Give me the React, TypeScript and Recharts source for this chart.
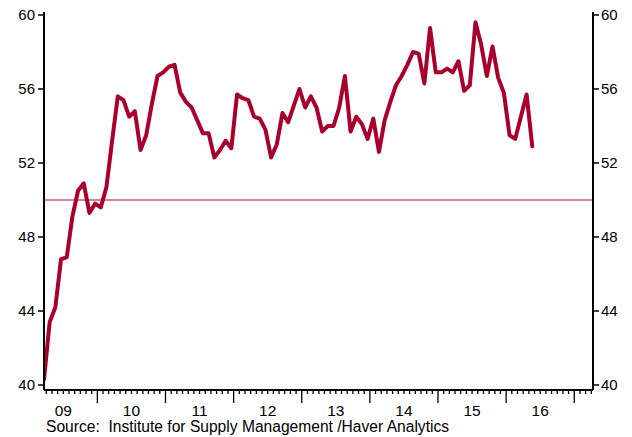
import React from 'react';
import { LineChart, Line, XAxis, YAxis, ReferenceLine } from 'recharts';

// Monthly index, March 2009 through May 2016
const startMonth = '2009-03';
const ismValues: number[] = [
  40.3, 43.4, 44.2, 46.8, 46.9, 49.1, 50.5, 50.9, 49.3, 49.8, 49.6, 50.7,
  53.2, 55.6, 55.4, 54.5, 54.8, 52.7, 53.5, 55.2, 56.7, 56.9, 57.2, 57.3,
  55.8, 55.3, 55.0, 54.3, 53.6, 53.6, 52.3, 52.7, 53.2, 52.8, 55.7, 55.5,
  55.4, 54.5, 54.4, 53.8, 52.3, 53.0, 54.7, 54.2, 55.1, 56.0, 55.0, 55.6,
  55.0, 53.7, 54.0, 54.0, 55.0, 56.7, 53.7, 54.5, 54.1, 53.3, 54.4, 52.6,
  54.3, 55.3, 56.2, 56.7, 57.3, 58.0, 57.9, 56.3, 59.3, 56.9, 56.9, 57.1,
  56.9, 57.5, 55.9, 56.2, 59.6, 58.4, 56.7, 58.3, 56.6, 55.8, 53.5, 53.3,
  54.5, 55.7, 52.9,
];
const yearLabels: string[] = ['09', '10', '11', '12', '13', '14', '15', '16'];
const yTicks: number[] = [40, 44, 48, 52, 56, 60];
const referenceValue = 50;
const sourceText = 'Source:\u00A0 Institute for Supply Management /Haver Analytics';

const FONT = '"Liberation Sans", Arial, Helvetica, sans-serif';
const LINE_COLOR = '#A8002C';

// months from March 2009; Jan 2010 boundary sits at 9.4
const YEAR_OFFSET = 9.4;
const X_MAX = 96.7;

const data = ismValues.map((v, i) => ({ t: i, month: `${startMonth}+${i}`, value: v }));

const monthTicks: number[] = [];
for (let k = -9; k <= 87; k++) monthTicks.push(YEAR_OFFSET + k);

const MonthTick = (props: any) => {
  const { x, y, payload } = props;
  const v = payload.value as number;
  const rel = Math.round(v - YEAR_OFFSET);
  const m = ((rel % 12) + 12) % 12;
  const isYear = m === 0;
  const yearIdx = Math.floor((rel + 0.001) / 12) + 1; // 0 => '09'
  const showLabel = m === 6 && yearIdx >= 0 && yearIdx < yearLabels.length;
  return (
    <g>
      <line x1={x} x2={x} y1={y} y2={y + (isYear ? 13 : 4)} stroke="#000" strokeWidth={1.3} />
      {showLabel && (
        <text x={x} y={y + 26} textAnchor="middle" fontSize={15.5} fontFamily={FONT} fill="#000">
          {yearLabels[yearIdx]}
        </text>
      )}
    </g>
  );
};

export default function App() {
  return (
    <div style={{ position: 'absolute', left: 0, top: 0, width: 632, height: 437, background: '#fff' }}>
      <LineChart width={632} height={437} data={data} margin={{ top: 12, right: 0, bottom: 0, left: 0 }}>
        <XAxis
          xAxisId="main"
          dataKey="t"
          type="number"
          domain={[0, X_MAX]}
          allowDataOverflow
          ticks={monthTicks}
          interval={0}
          tickSize={0}
          tickMargin={0}
          tickLine={false}
          tick={<MonthTick />}
          height={47}
          axisLine={{ stroke: '#000', strokeWidth: 2 }}
        />
        <XAxis
          xAxisId="top"
          orientation="top"
          dataKey="t"
          type="number"
          domain={[0, X_MAX]}
          allowDataOverflow
          tick={false}
          tickLine={false}
          height={0}
          axisLine={{ stroke: '#000', strokeWidth: 2 }}
        />
        <YAxis
          yAxisId="left"
          orientation="left"
          width={44}
          domain={[39.73, 60.16]}
          allowDataOverflow
          ticks={yTicks}
          interval={0}
          tickSize={6}
          tickMargin={3}
          tick={{ fontSize: 15, fill: '#000', fontFamily: FONT }}
          tickLine={{ stroke: '#000', strokeWidth: 1.5 }}
          axisLine={{ stroke: '#000', strokeWidth: 2 }}
        />
        <YAxis
          yAxisId="right"
          orientation="right"
          width={39}
          domain={[39.73, 60.16]}
          allowDataOverflow
          ticks={yTicks}
          interval={0}
          tickSize={6}
          tickMargin={2}
          tick={{ fontSize: 15, fill: '#000', fontFamily: FONT }}
          tickLine={{ stroke: '#000', strokeWidth: 1.5 }}
          axisLine={{ stroke: '#000', strokeWidth: 2 }}
        />
        <ReferenceLine
          xAxisId="main"
          yAxisId="left"
          y={referenceValue}
          stroke="#C9606E"
          strokeWidth={1.6}
        />
        <Line
          xAxisId="main"
          yAxisId="left"
          type="linear"
          dataKey="value"
          stroke={LINE_COLOR}
          strokeWidth={4}
          strokeLinejoin="round"
          strokeLinecap="round"
          dot={false}
          activeDot={false}
          isAnimationActive={false}
        />
      </LineChart>
      <svg width={632} height={437} style={{ position: 'absolute', left: 0, top: 0, pointerEvents: 'none' }}>
        <text x={46} y={432} fontSize={15.6} fontFamily={FONT} fill="#000">
          {sourceText}
        </text>
      </svg>
    </div>
  );
}
